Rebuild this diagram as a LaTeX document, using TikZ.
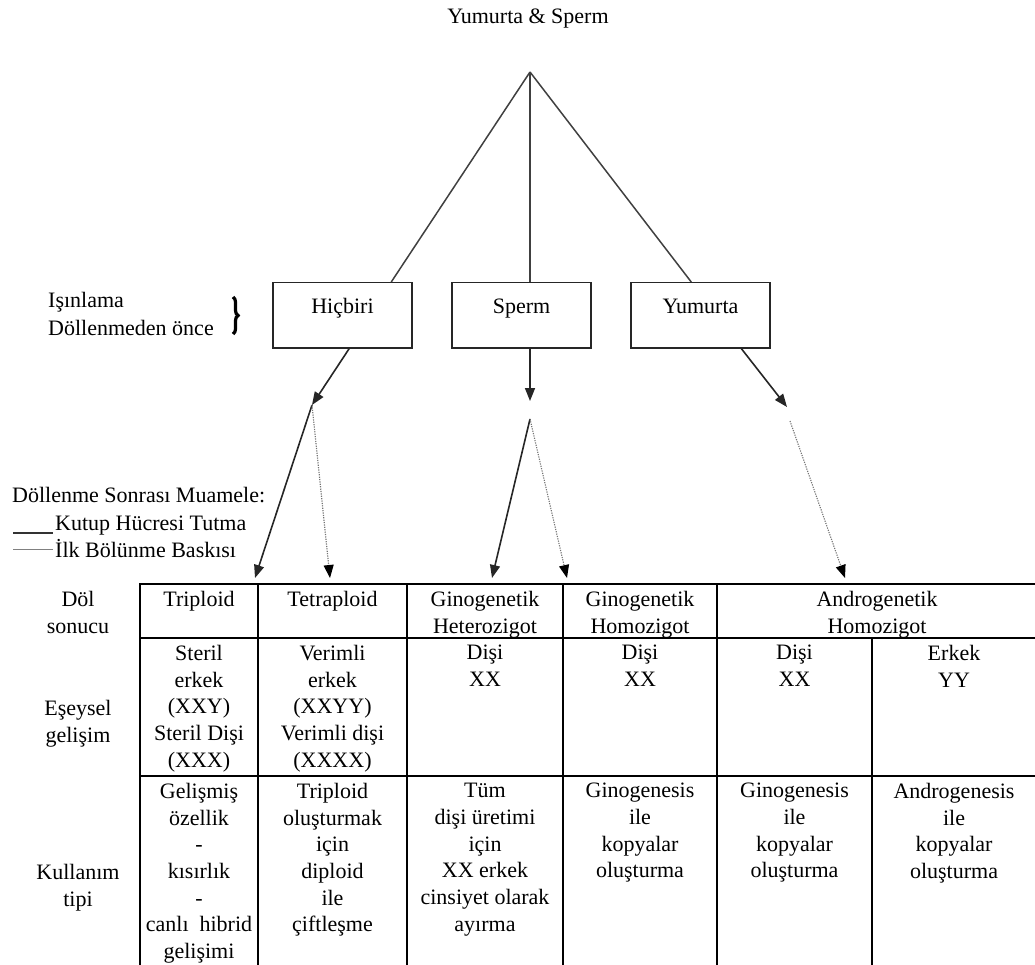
\documentclass[tikz,border=0pt]{standalone}
\usepackage{fontspec}
\setmainfont{Liberation Serif}
\usetikzlibrary{arrows.meta,calc,decorations.pathreplacing}
\begin{document}
\begin{tikzpicture}[x=1pt,y=-1pt,
  font=\fontsize{22}{26.7}\selectfont,
  lbl/.style={inner sep=0pt, align=center, anchor=north},
  txt/.style={inner sep=0pt, anchor=base west},
  box/.style={draw=black!85, line width=1.5pt, inner sep=0pt, anchor=north,
    minimum width=139pt, text height=31pt, text depth=34pt},
  feed/.style={draw=black!75, line width=1.5pt},
  arr/.style={draw=black!85, line width=1.6pt, -{Triangle[length=13pt,width=10pt]}},
  darr/.style={draw=black!55, line width=1.1pt, dash pattern=on 1.2pt off 1.2pt,
    -{Triangle[length=13pt,width=10pt,color=black]}},
  grid/.style={draw=black, line width=2pt}]
\useasboundingbox (0,0) rectangle (1035,965);

% top
\node[inner sep=0pt, anchor=base] (top) at (528,24) {Yumurta \& Sperm};
\coordinate (apex) at (530,72);

% boxes
\node[box] (hic) at (342.5,282) {Hiçbiri};
\node[box] (sp) at (521.5,282) {Sperm};
\node[box] (yum) at (700.5,282) {Yumurta};

\draw[feed] (apex) -- ($(hic.north west)+(119,0)$);
\draw[feed] (apex) -- (apex |- sp.north);
\draw[feed] (apex) -- ($(yum.north west)+(61,0)$);

% left labels
\node[txt] (isin) at (48,308) {Işınlama};
\node[txt] (once) at (48,335) {Döllenmeden önce};
\draw[decorate, decoration={brace, amplitude=5pt}, line width=3.2pt] (233,297) -- (233,334);

% first arrows
\coordinate (hicJ) at (312,405);
\coordinate (spT) at (530,401);
\coordinate (spJ) at (530,419);
\coordinate (yumT) at (787,407);
\coordinate (yumJ) at (790,421);
\draw[arr] ($(hic.south west)+(77,0)$) -- (hicJ);
\draw[arr] (spT |- sp.south) -- (spT);
\draw[arr] ($(yum.south west)+(111,0)$) -- (yumT);

% second arrows
\coordinate (t1) at (255,578);
\coordinate (t2) at (330,578);
\coordinate (t3) at (492,578);
\coordinate (t4) at (567,578);
\coordinate (t5) at (845,578);
\draw[arr] (hicJ) -- (t1);
\draw[darr] (hicJ) -- (t2);
\draw[arr] (spJ) -- (t3);
\draw[darr] (spJ) -- (t4);
\draw[darr] (yumJ) -- (t5);

% legend
\node[txt] (leg0) at (12,502) {Döllenme Sonrası Muamele:};
\node[txt] (leg1) at (55,530) {Kutup Hücresi Tutma};
\node[txt] (leg2) at (55,557) {İlk Bölünme Baskısı};
\draw[draw=black!80, line width=1.6pt] (13,533) -- (53,533);
\draw[draw=black!50, line width=1pt] (13,549) -- (53,549);

% table grid
\draw[grid] (140,584) -- (1035,584);
\draw[grid] (140,638) -- (1035,638);
\draw[grid] (140,776) -- (1035,776);
\draw[grid] (140,583) -- (140,965);
\draw[grid] (258,583) -- (258,965);
\draw[grid] (407,583) -- (407,965);
\draw[grid] (563,583) -- (563,965);
\draw[grid] (717,583) -- (717,965);
\draw[grid] (872,638) -- (872,965);

% row labels
\node[lbl] (r1) at (78,591) {Döl\\sonucu};
\node[lbl] (r2) at (78,700) {Eşeysel\\gelişim};
\node[lbl] (r3) at (78,864) {Kullanım\\tipi};

% row 1
\node[lbl] (a1) at (199,591) {Triploid};
\node[lbl] (b1) at (332.5,591) {Tetraploid};
\node[lbl] (c1) at (485,591) {Ginogenetik\\Heterozigot};
\node[lbl] (d1) at (640,591) {Ginogenetik\\Homozigot};
\node[lbl] (e1) at (877,591) {Androgenetik\\Homozigot};

% row 2
\node[lbl] (a2) at (199,645) {Steril\\erkek\\(XXY)\\Steril Dişi\\(XXX)};
\node[lbl] (b2) at (332.5,645) {Verimli\\erkek\\(XXYY)\\Verimli dişi\\(XXXX)};
\node[lbl] (c2) at (485,645) {Dişi\\XX};
\node[lbl] (d2) at (640,645) {Dişi\\XX};
\node[lbl] (e2) at (794.5,645) {Dişi\\XX};
\node[lbl] (f2) at (954,645) {Erkek\\YY};

% row 3
\node[lbl] (a3) at (199,783) {Gelişmiş\\özellik\\-\\kısırlık\\-\\canlı\ \ hibrid\\gelişimi};
\node[lbl] (b3) at (332.5,783) {Triploid\\oluşturmak\\için\\diploid\\ile\\çiftleşme};
\node[lbl] (c3) at (485,783) {Tüm\\dişi üretimi\\için\\XX erkek\\cinsiyet olarak\\ayırma};
\node[lbl] (d3) at (640,783) {Ginogenesis\\ile\\kopyalar\\oluşturma};
\node[lbl] (e3) at (794.5,783) {Ginogenesis\\ile\\kopyalar\\oluşturma};
\node[lbl] (f3) at (954,783) {Androgenesis\\ile\\kopyalar\\oluşturma};
\end{tikzpicture}
\end{document}
